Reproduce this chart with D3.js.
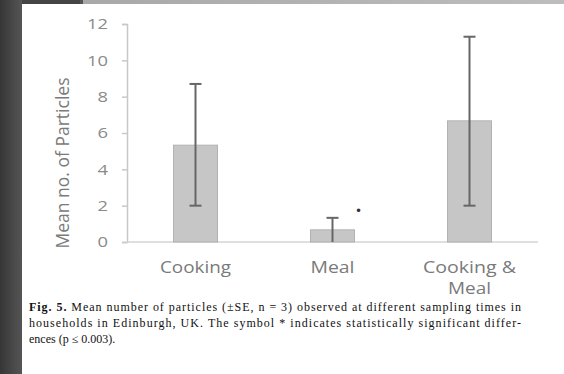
<!DOCTYPE html>
<html lang="en">
  <head>
    <script src="https://d3js.org/d3.v7.min.js"></script>
    <style>
      body { margin: 0; background: #fff; }
      .cat { fill: #7a7a7a; font-family: "Open Sans", sans-serif; font-size: 17px; text-anchor: middle; }
      .caption { font-family: "Liberation Serif", serif; font-size: 12px; fill: #111; }
    </style>
  </head>
  <body>
    <div id="chart"></div>
    <script>
      let width = 564;
      let height = 374;

      // data
      let categories = ["Cooking", "Meal", "Cooking & Meal"];
      let means = [5.33, 0.67, 6.67];
      let lower = [2, 0, 2];
      let upper = [8.7, 1.33, 11.3];
      let yTicks = [0, 2, 4, 6, 8, 10, 12];
      let significant = [false, true, false];

      let svg = d3.select("#chart").append("svg")
        .attr("width", width).attr("height", height);

      // screenshot frame
      let defs = svg.append("defs");
      let grad = defs.append("linearGradient").attr("id", "lg");
      grad.append("stop").attr("offset", "0%").attr("stop-color", "#363636");
      grad.append("stop").attr("offset", "100%").attr("stop-color", "#555");
      let tg = defs.append("linearGradient").attr("id", "tg");
      tg.append("stop").attr("offset", "0%").attr("stop-color", "#a8a8a8");
      tg.append("stop").attr("offset", "100%").attr("stop-color", "#bdbdbd");
      svg.append("rect").attr("x", 0).attr("y", 0).attr("width", 22).attr("height", height).attr("fill", "url(#lg)");
      svg.append("rect").attr("x", 22).attr("y", 0).attr("width", 60).attr("height", 4).attr("fill", "#444");
      svg.append("rect").attr("x", 82).attr("y", 0).attr("width", width - 82).attr("height", 4).attr("fill", "url(#tg)");
      svg.append("rect").attr("x", 80).attr("y", 0).attr("width", 3).attr("height", 4).attr("fill", "#555");

      let x = d3.scaleBand().domain(categories).range([127, 538]);
      let y = d3.scaleLinear().domain([0, 12]).range([242, 24]);
      let barW = 44;

      // y axis
      let yAxis = svg.append("g").attr("transform", "translate(127,0)")
        .call(d3.axisLeft(y).tickValues(yTicks).tickSize(5).tickPadding(14));
      yAxis.select(".domain").attr("stroke", "#c8c8c8").attr("stroke-width", 1.5);
      yAxis.selectAll(".tick line").attr("stroke", "#c8c8c8").attr("stroke-width", 1.5);
      yAxis.selectAll(".tick text")
        .style("font-family", "'Open Sans', sans-serif")
        .style("font-size", "15px")
        .style("fill", "#8a8a8a")
        .attr("textLength", function (d) { return String(d).length * 10.5; })
        .attr("lengthAdjust", "spacingAndGlyphs");

      // x axis baseline
      svg.append("line").attr("x1", 127).attr("x2", 538)
        .attr("y1", y(0)).attr("y2", y(0))
        .attr("stroke", "#d4d4d4").attr("stroke-width", 1.5);

      svg.append("text")
        .attr("transform", "translate(69,163) rotate(-90)")
        .attr("text-anchor", "middle")
        .style("font-family", "'Open Sans', sans-serif")
        .style("font-size", "17.5px")
        .attr("fill", "#7a7a7a")
        .text("Mean no. of Particles");

      let cx = function (d) { return x(d) + x.bandwidth() / 2; };

      svg.append("g").selectAll("rect").data(categories).enter().append("rect")
        .attr("x", function (d) { return cx(d) - barW / 2; })
        .attr("y", function (d, i) { return y(means[i]); })
        .attr("width", barW)
        .attr("height", function (d, i) { return y(0) - y(means[i]); })
        .attr("fill", "#c6c6c6")
        .attr("stroke", "#b2b2b2")
        .attr("stroke-width", 1);

      // error bars
      let eb = svg.append("g").attr("stroke", "#666").attr("stroke-width", 2);
      categories.forEach(function (d, i) {
        eb.append("line").attr("x1", cx(d)).attr("x2", cx(d))
          .attr("y1", y(lower[i])).attr("y2", y(upper[i]));
        eb.append("line").attr("x1", cx(d) - 6).attr("x2", cx(d) + 6)
          .attr("y1", y(upper[i])).attr("y2", y(upper[i]));
        if (lower[i] > 0) {
          eb.append("line").attr("x1", cx(d) - 6).attr("x2", cx(d) + 6)
            .attr("y1", y(lower[i])).attr("y2", y(lower[i]));
        }
      });

      // significance marker
      categories.forEach(function (d, i) {
        if (significant[i]) {
          svg.append("text").attr("x", cx(d) + 26).attr("y", y(upper[i]) - 3)
            .attr("text-anchor", "middle")
            .style("font-family", "'DejaVu Sans', sans-serif")
            .style("font-size", "12px")
            .attr("fill", "#333")
            .text("•");
        }
      });

      // category labels (stretched slightly like the scanned figure)
      categories.forEach(function (d) {
        let t = svg.append("text").attr("class", "cat").attr("x", cx(d)).attr("y", 273);
        if (d === "Cooking & Meal") {
          t.append("tspan").attr("x", cx(d)).attr("textLength", 93).attr("lengthAdjust", "spacingAndGlyphs").text("Cooking &");
          t.append("tspan").attr("x", cx(d)).attr("dy", 21).attr("textLength", 43).attr("lengthAdjust", "spacingAndGlyphs").text("Meal");
        } else {
          t.attr("textLength", d === "Cooking" ? 71 : 44).attr("lengthAdjust", "spacingAndGlyphs").text(d);
        }
      });

      // caption
      let cap = svg.append("g").attr("class", "caption");
      let l1 = cap.append("text").attr("x", 29).attr("y", 311).attr("textLength", 492).attr("lengthAdjust", "spacing");
      l1.append("tspan").attr("font-weight", "bold").text("Fig. 5.");
      l1.append("tspan").text(" Mean number of particles (\u00B1SE, n = 3) observed at different sampling times in");
      cap.append("text").attr("x", 29).attr("y", 327).attr("textLength", 492).attr("lengthAdjust", "spacing")
        .text("households in Edinburgh, UK. The symbol * indicates statistically significant differ-");
      cap.append("text").attr("x", 29).attr("y", 343)
        .text("ences (p \u2264 0.003).");
    </script>
  </body>
</html>
